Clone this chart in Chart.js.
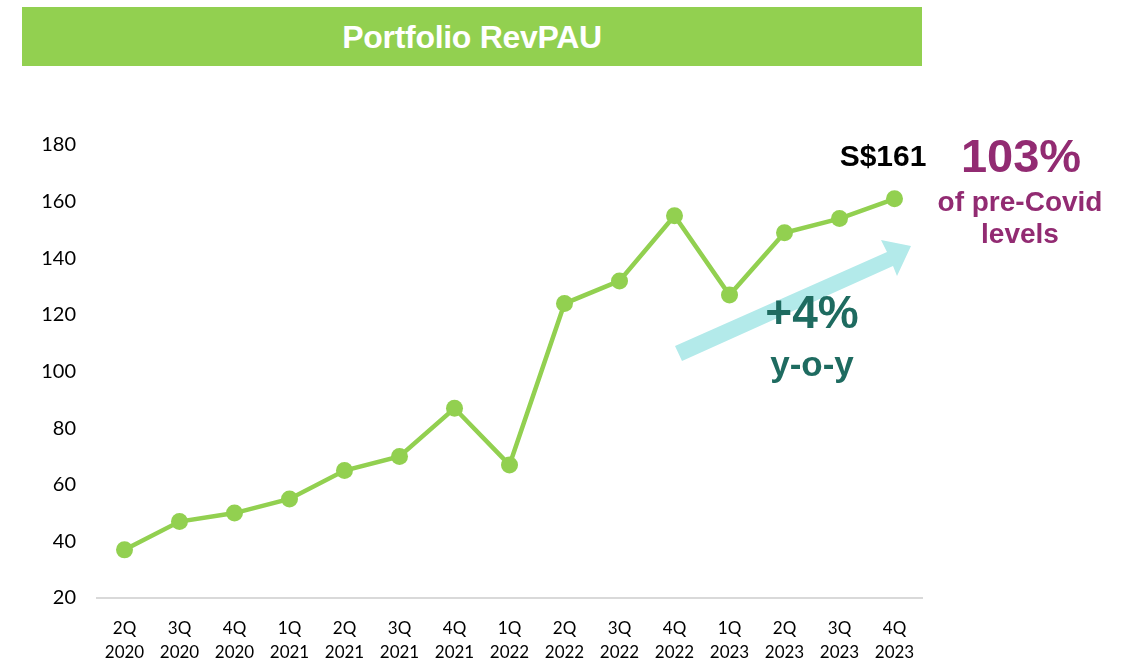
<!DOCTYPE html>
<html lang="en">
<head>
    <meta charset="UTF-8">
    <title>Portfolio RevPAU</title>
    <style>
        body {
            margin: 0;
            background-color: #fff;
            font-family: "Liberation Sans", Arial, sans-serif;
        }
        .wrap {
            position: relative;
            width: 1125px;
            height: 661px;
        }
        #title-bar {
            position: absolute;
            left: 22px;
            top: 7px;
            width: 900px;
            height: 59px;
            background-color: #92d050;
            color: #fff;
            font-weight: bold;
            font-size: 32px;
            line-height: 61px;
            text-align: center;
            letter-spacing: -0.3px;
        }
        #chart {
            position: absolute;
            left: 0;
            top: 0;
        }
    </style>
</head>
<body>
<div class="wrap">
    <canvas id="chart" width="1125" height="661"></canvas>
    <div id="title-bar">Portfolio RevPAU</div>
</div>
<script src="https://cdn.jsdelivr.net/npm/chart.js"></script>
<script>
    const quarters = [
        ['2Q', '2020'], ['3Q', '2020'], ['4Q', '2020'],
        ['1Q', '2021'], ['2Q', '2021'], ['3Q', '2021'], ['4Q', '2021'],
        ['1Q', '2022'], ['2Q', '2022'], ['3Q', '2022'], ['4Q', '2022'],
        ['1Q', '2023'], ['2Q', '2023'], ['3Q', '2023'], ['4Q', '2023']
    ];
    const revpau = [37, 47, 50, 55, 65, 70, 87, 67, 124, 132, 155, 127, 149, 154, 161];
    const yTicks = [20, 40, 60, 80, 100, 120, 140, 160, 180];

    const green = '#92d050';
    const purple = '#922b72';
    const teal = '#1e6b60';

    // text and arrow on the right side of the chart
    const notes = {
        id: 'notes',
        afterDatasetsDraw(chart) {
            const ctx = chart.ctx;
            ctx.save();

            // light arrow behind the y-o-y text
            ctx.fillStyle = '#b3eaea';
            ctx.beginPath();
            ctx.moveTo(675, 346);
            ctx.lineTo(887, 252);
            ctx.lineTo(881, 240);
            ctx.lineTo(911, 246);
            ctx.lineTo(897, 276);
            ctx.lineTo(893, 266);
            ctx.lineTo(682, 361);
            ctx.closePath();
            ctx.fill();

            ctx.textAlign = 'center';
            ctx.textBaseline = 'middle';

            ctx.fillStyle = '#000';
            ctx.font = 'bold 30px "Liberation Sans", Arial';
            ctx.fillText('S$161', 883, 158);

            ctx.fillStyle = purple;
            ctx.font = 'bold 47px "Liberation Sans", Arial';
            ctx.fillText('103%', 1021, 159);
            ctx.font = 'bold 28px "Liberation Sans", Arial';
            ctx.fillText('of pre-Covid', 1020, 203);
            ctx.fillText('levels', 1020, 235);

            ctx.fillStyle = teal;
            ctx.font = 'bold 46px "Liberation Sans", Arial';
            ctx.fillText('+4%', 812, 315);
            ctx.font = 'bold 35px "Liberation Sans", Arial';
            ctx.fillText('y-o-y', 812, 366);

            ctx.restore();
        }
    };

    new Chart(document.getElementById('chart'), {
        type: 'line',
        data: {
            labels: quarters,
            datasets: [{
                data: revpau,
                borderColor: green,
                backgroundColor: green,
                borderWidth: 4.5,
                pointRadius: 8.5,
                pointHoverRadius: 8.5,
                pointBorderWidth: 0,
                tension: 0
            }]
        },
        options: {
            responsive: false,
            animation: false,
            layout: {
                padding: { top: 145, right: 203, left: 0, bottom: 0 }
            },
            plugins: {
                legend: { display: false },
                tooltip: { enabled: false }
            },
            scales: {
                x: {
                    offset: true,
                    grid: { display: false },
                    border: { color: '#d9d9d9', width: 2 },
                    ticks: {
                        color: '#000',
                        padding: 11,
                        maxRotation: 0,
                        autoSkip: false,
                        font: { family: 'Lato', size: 17, lineHeight: 1.4 }
                    },
                    afterFit(scale) { scale.height = 63; }
                },
                y: {
                    min: 20,
                    max: 180,
                    afterBuildTicks(scale) {
                        scale.ticks = yTicks.map(v => ({ value: v }));
                    },
                    grid: { display: false, drawTicks: false },
                    border: { display: false },
                    ticks: {
                        color: '#000',
                        padding: 21,
                        font: { family: 'Lato', size: 20 }
                    },
                    afterFit(scale) { scale.width = 97; }
                }
            }
        },
        plugins: [notes]
    });
</script>
</body>
</html>
